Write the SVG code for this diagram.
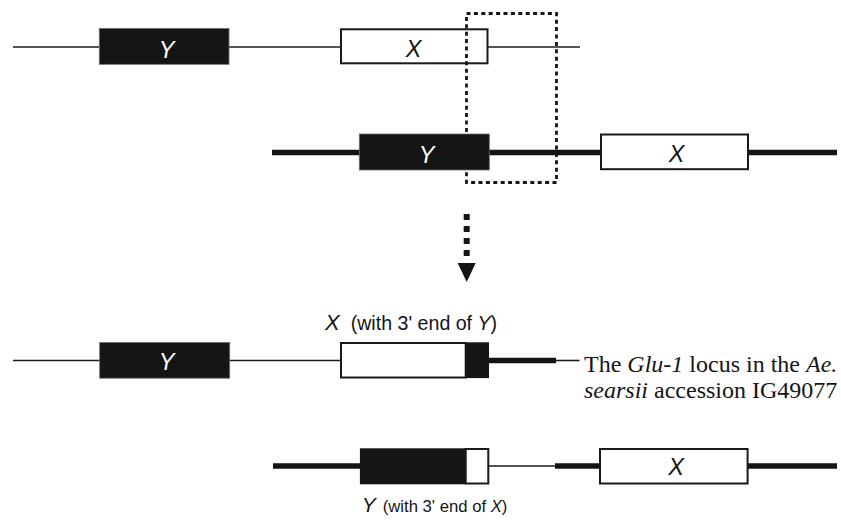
<svg xmlns="http://www.w3.org/2000/svg" width="841" height="521" viewBox="0 0 841 521">
  <style>
    .thin { stroke: #1c1c1c; stroke-width: 1.6; fill: none; }
    .thick { stroke: #141414; stroke-width: 5.6; fill: none; }
    .gene-dark { fill: #151515; stroke: #6a6a6a; stroke-width: 0.8; }
    .gene-light { fill: #ffffff; stroke: #1a1a1a; stroke-width: 2; }
    .fill-dark { fill: #151515; stroke: none; }
    .lbl { font-family: "Liberation Sans", Arial, sans-serif; font-style: italic; font-size: 23.5px; text-anchor: middle; }
    .lbl-w { fill: #ffffff; }
    .lbl-b { fill: #151515; }
    .cap { font-family: "Liberation Sans", Arial, sans-serif; fill: #151515; }
    .note { font-family: "Liberation Serif", "Times New Roman", serif; font-size: 24px; fill: #151515; }
    .dot { stroke: #151515; stroke-width: 2.8; stroke-dasharray: 4 3.4; fill: none; }
  </style>

  <!-- DNA strands -->
  <g id="connectors">
    <!-- row 1: thin strand -->
    <line class="thin" x1="13" y1="47" x2="99" y2="47"/>
    <line class="thin" x1="229" y1="47" x2="341" y2="47"/>
    <line class="thin" x1="488" y1="47" x2="580" y2="47"/>
    <!-- row 2: thick strand -->
    <line class="thick" x1="272" y1="152.5" x2="360" y2="152.5"/>
    <line class="thick" x1="489" y1="152.5" x2="601" y2="152.5"/>
    <line class="thick" x1="748" y1="152.5" x2="837" y2="152.5"/>
    <!-- row 3 -->
    <line class="thin" x1="13" y1="360.5" x2="100" y2="360.5"/>
    <line class="thin" x1="230" y1="360.5" x2="341" y2="360.5"/>
    <line class="thick" x1="489" y1="360.5" x2="556" y2="360.5"/>
    <line class="thin" x1="555" y1="360.5" x2="579.5" y2="360.5"/>
    <!-- row 4 -->
    <line class="thick" x1="273" y1="466" x2="360" y2="466"/>
    <line class="thin" x1="488" y1="466" x2="556" y2="466"/>
    <line class="thick" x1="555" y1="466" x2="600" y2="466"/>
    <line class="thick" x1="748" y1="466" x2="837" y2="466"/>
    <!-- dotted arrow -->
    <line x1="466.7" y1="214" x2="466.7" y2="257" stroke="#151515" stroke-width="6" stroke-dasharray="6 6"/>
    <polygon points="457.7,263 475.7,263 466.7,282" fill="#151515"/>
  </g>

  <!-- row 1 genes -->
  <g id="row1-Y">
    <rect class="gene-dark" x="99.3" y="28.5" width="129.7" height="35.8"/>
    <text class="lbl lbl-w" x="166.5" y="58">Y</text>
  </g>
  <g id="row1-X">
    <rect class="gene-light" x="341" y="29.3" width="146.5" height="34"/>
    <text class="lbl lbl-b" x="413.5" y="56.8">X</text>
  </g>

  <!-- row 2 genes -->
  <g id="row2-Y">
    <rect class="gene-dark" x="359.3" y="134" width="130" height="36"/>
    <text class="lbl lbl-w" x="426.5" y="163.3">Y</text>
  </g>
  <g id="row2-X">
    <rect class="gene-light" x="601" y="134.5" width="147" height="34.7"/>
    <text class="lbl lbl-b" x="676.5" y="161.7">X</text>
  </g>

  <!-- region of exchange -->
  <g id="exchange-box">
    <rect class="dot" x="466.5" y="13.5" width="90" height="169"/>
  </g>

  <!-- row 3 genes -->
  <g id="row3-Y">
    <rect class="gene-dark" x="99.7" y="342.5" width="130" height="35.7"/>
    <text class="lbl lbl-w" x="166.7" y="369.5">Y</text>
  </g>
  <g id="row3-X">
    <rect class="fill-dark" x="465.7" y="342.3" width="23.3" height="35.8"/>
    <rect class="gene-light" x="341" y="343" width="124.7" height="34.5"/>
    <text class="cap" x="325" y="330"><tspan font-style="italic" font-size="22">X</tspan><tspan dx="11" font-size="19.6">(with 3' end of <tspan font-style="italic">Y</tspan>)</tspan></text>
  </g>

  <!-- row 4 genes -->
  <g id="row4-Y">
    <rect class="fill-dark" x="359.9" y="448.3" width="105.8" height="36"/>
    <rect class="gene-light" x="465.7" y="449" width="22.6" height="34.5"/>
    <text class="cap" x="361.7" y="512"><tspan font-style="italic" font-size="21">Y</tspan><tspan dx="7" font-size="16.7">(with 3' end of <tspan font-style="italic">X</tspan>)</tspan></text>
  </g>
  <g id="row4-X">
    <rect class="gene-light" x="600" y="449" width="147.6" height="34.5"/>
    <text class="lbl lbl-b" x="676" y="475">X</text>
  </g>

  <!-- caption -->
  <g id="caption">
    <text class="note" x="584" y="372">The <tspan font-style="italic">Glu-1</tspan> locus in the <tspan font-style="italic">Ae.</tspan></text>
    <text class="note" x="584" y="398"><tspan font-style="italic">searsii</tspan> accession IG49077</text>
  </g>
</svg>
